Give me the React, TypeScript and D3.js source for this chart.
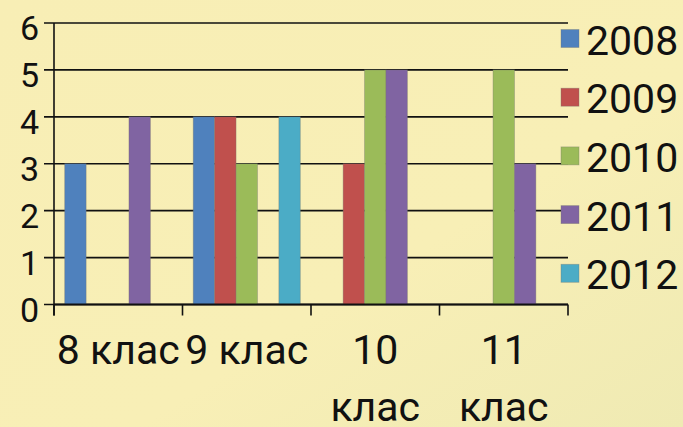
import React from 'react';
import * as d3 from 'd3';

const categories = ['8 клас', '9 клас', '10 клас', '11 клас'];
const years = ['2008', '2009', '2010', '2011', '2012'];
const colors = ['#4F81BD', '#C0504D', '#9BBB59', '#8064A2', '#4BACC6'];

// values per year, one entry per category
const values2008 = [3, 4, 0, 0];
const values2009 = [0, 4, 3, 0];
const values2010 = [0, 3, 5, 5];
const values2011 = [4, 0, 5, 3];
const values2012 = [0, 4, 0, 0];
const seriesValues = [values2008, values2009, values2010, values2011, values2012];

const yTicks = [0, 1, 2, 3, 4, 5, 6];

const W = 683;
const H = 427;
const FONT = 'Roboto, "Open Sans", sans-serif';

const App: React.FC = () => {
  const ref = React.useRef<SVGSVGElement>(null);

  React.useEffect(() => {
    const svg = d3.select(ref.current);
    svg.selectAll('*').remove();

    const left = 54;
    const right = 568;
    const top = 23;
    const bottom = 304.5;

    const x = d3.scaleBand().domain(categories).range([left, right]).paddingInner(0).paddingOuter(0);
    const xInner = d3
      .scaleBand()
      .domain(years)
      .range([0, x.bandwidth()])
      .paddingInner(0)
      .paddingOuter(0.5);
    const y = d3.scaleLinear().domain([0, 6]).range([bottom, top]);

    // background
    const defs = svg.append('defs');
    const grad = defs
      .append('linearGradient')
      .attr('id', 'bg')
      .attr('x1', '0')
      .attr('y1', '0')
      .attr('x2', '1')
      .attr('y2', '1');
    grad.append('stop').attr('offset', '0').attr('stop-color', '#F8EEB5');
    grad.append('stop').attr('offset', '0.6').attr('stop-color', '#F8EFB6');
    grad.append('stop').attr('offset', '1').attr('stop-color', '#EFEAB3');
    svg.append('rect').attr('width', W).attr('height', H).attr('fill', 'url(#bg)');

    // gridlines
    svg
      .append('g')
      .selectAll('line')
      .data(yTicks)
      .enter()
      .append('line')
      .attr('x1', left - 10)
      .attr('x2', right)
      .attr('y1', (d) => y(d))
      .attr('y2', (d) => y(d))
      .attr('stroke', '#111')
      .attr('stroke-width', 1.6);

    // bars
    const flat = years.flatMap((yr, si) =>
      categories.map((c, ci) => ({ yr, c, v: seriesValues[si][ci], color: colors[si] }))
    );
    svg
      .append('g')
      .selectAll('rect')
      .data(flat.filter((d) => d.v > 0))
      .enter()
      .append('rect')
      .attr('x', (d) => x(d.c)! + xInner(d.yr)!)
      .attr('y', (d) => y(d.v))
      .attr('width', xInner.bandwidth())
      .attr('height', (d) => y(0) - y(d.v))
      .attr('fill', (d) => d.color)
      .attr('stroke', 'rgba(120,120,110,0.45)')
      .attr('stroke-width', 0.8);

    // axes
    svg
      .append('line')
      .attr('x1', left)
      .attr('x2', left)
      .attr('y1', top)
      .attr('y2', bottom + 11)
      .attr('stroke', '#111')
      .attr('stroke-width', 1.6);
    svg
      .append('line')
      .attr('x1', left)
      .attr('x2', right)
      .attr('y1', bottom)
      .attr('y2', bottom)
      .attr('stroke', '#111')
      .attr('stroke-width', 1.8);
    const boundaries = categories.map((c) => x(c)! + x.bandwidth()).concat([left]);
    svg
      .append('g')
      .selectAll('line')
      .data(boundaries)
      .enter()
      .append('line')
      .attr('x1', (d) => d)
      .attr('x2', (d) => d)
      .attr('y1', bottom)
      .attr('y2', bottom + 11)
      .attr('stroke', '#111')
      .attr('stroke-width', 1.6);

    // y labels
    svg
      .append('g')
      .selectAll('text')
      .data(yTicks)
      .enter()
      .append('text')
      .attr('x', 39)
      .attr('y', (d) => y(d) + 17)
      .attr('text-anchor', 'end')
      .attr('font-family', FONT)
      .attr('font-size', 34)
      .attr('fill', '#111')
      .text((d) => d);

    // x labels, wrapped when wider than the band
    const xl = svg.append('g');
    categories.forEach((c) => {
      const cx = x(c)! + x.bandwidth() / 2;
      const t = xl
        .append('text')
        .attr('x', cx)
        .attr('y', 364)
        .attr('text-anchor', 'middle')
        .attr('font-family', FONT)
        .attr('font-size', 41)
        .attr('fill', '#111')
        .text(c);
      const len = (t.node() as SVGTextElement).getComputedTextLength();
      if (len > x.bandwidth() + 2) {
        t.text(null);
        c.split(' ').forEach((w, i) => {
          t.append('tspan').attr('x', cx).attr('dy', i === 0 ? 0 : 57).text(w);
        });
      }
    });

    // legend
    const lg = svg
      .append('g')
      .selectAll('g')
      .data(years)
      .enter()
      .append('g')
      .attr('transform', (_, i) => `translate(561, ${38.5 + i * 58.7})`);
    lg.append('rect')
      .attr('x', 0)
      .attr('y', -9)
      .attr('width', 18)
      .attr('height', 18)
      .attr('fill', (_, i) => colors[i])
      .attr('stroke', 'rgba(120,120,110,0.45)')
      .attr('stroke-width', 0.8);
    lg.append('text')
      .attr('x', 25)
      .attr('y', 16)
      .attr('font-family', FONT)
      .attr('font-size', 41)
      .attr('fill', '#111')
      .text((d) => d);
  }, []);

  return (
    <svg
      ref={ref}
      width={W}
      height={H}
      style={{ position: 'fixed', left: 0, top: 0, display: 'block' }}
    />
  );
};

export default App;
